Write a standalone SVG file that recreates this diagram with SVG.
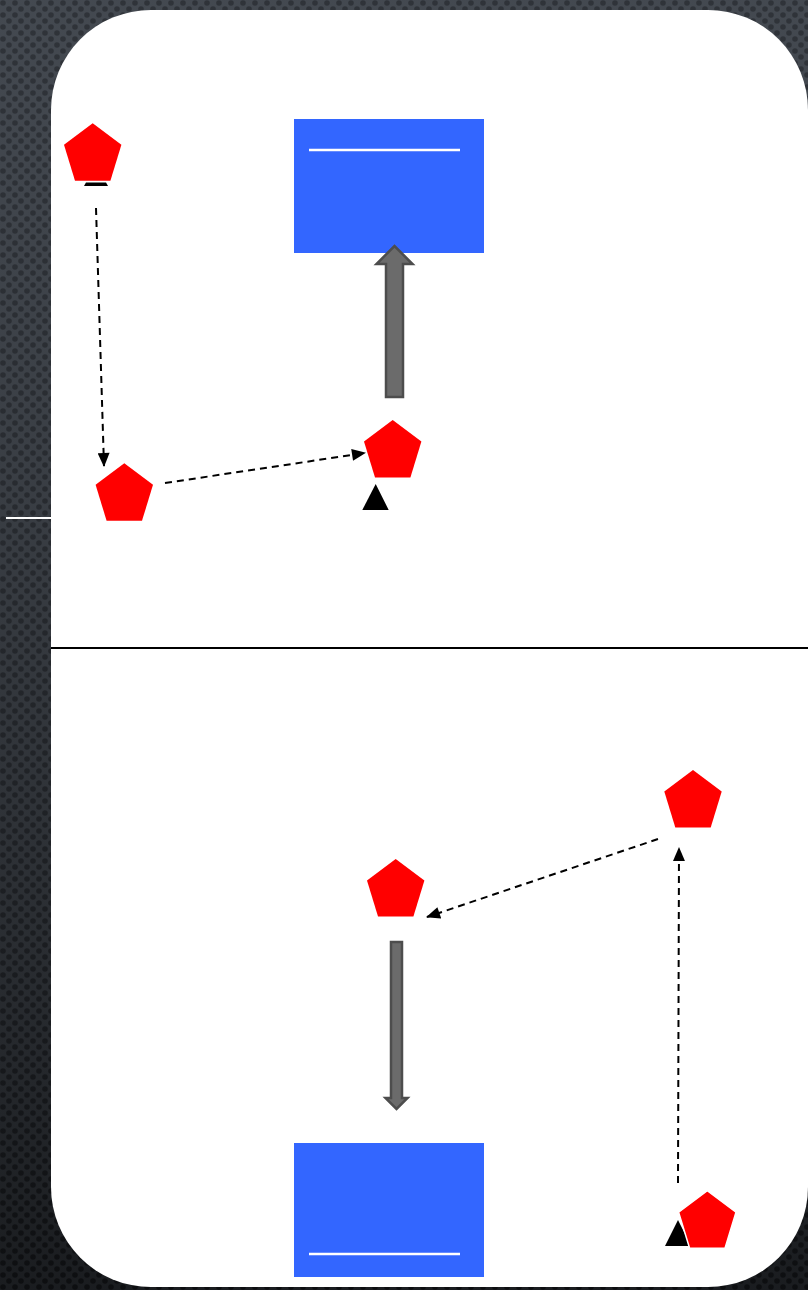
<svg xmlns="http://www.w3.org/2000/svg" width="808" height="1290" viewBox="0 0 808 1290">
<style>
.pent{fill:#ff0000}
.dash{stroke:#000;stroke-width:2;stroke-dasharray:7 5;fill:none}
.blue{fill:#3366ff}
.wline{stroke:#fff;stroke-width:2.5}
.big{fill:#6b6b6b;stroke:#4d4d4d;stroke-width:2.5}
.tri{fill:#000}
</style>
<defs>
<pattern id="dots" width="12" height="12" patternUnits="userSpaceOnUse">
<rect width="12" height="12" fill="#3a3f46"/>
<circle cx="3" cy="3" r="2.8" fill="#1d2025"/>
<circle cx="9" cy="9" r="2.8" fill="#1d2025"/>
</pattern>
<linearGradient id="shade" x1="0" y1="0" x2="0" y2="1">
<stop offset="0" stop-color="#5a6068" stop-opacity="0.3"/>
<stop offset="1" stop-color="#000" stop-opacity="0.55"/>
</linearGradient>
<path id="pg" d="M0,0 L28.7,21.5 L17.7,57.5 L-17.7,57.5 L-28.7,21.5 Z"/>
<marker id="ah" viewBox="0 0 14 12" refX="13" refY="6" markerWidth="15" markerHeight="12" markerUnits="userSpaceOnUse" orient="auto">
<path d="M0,0 L14,6 L0,12 Z" fill="#000"/>
</marker>
</defs>
<g id="background">
<rect width="808" height="1290" fill="url(#dots)"/>
<rect width="808" height="1290" fill="url(#shade)"/>
<line x1="6" y1="518" x2="51" y2="518" stroke="#fff" stroke-width="2"/>
<rect x="51" y="10" width="757" height="1277" rx="100" ry="100" fill="#fff"/>
<line x1="51" y1="648" x2="808" y2="648" stroke="#000" stroke-width="2"/>
</g>
<g id="box-top">
<rect class="blue" x="294" y="119" width="190" height="134"/>
<line class="wline" x1="309" y1="150" x2="460" y2="150"/>
</g>
<g id="box-bottom">
<rect class="blue" x="294" y="1143" width="190" height="134"/>
<line class="wline" x1="309" y1="1254" x2="460" y2="1254"/>
</g>
<g id="connectors">
<line class="dash" x1="96" y1="208" x2="104" y2="466" marker-end="url(#ah)"/>
<line class="dash" x1="165" y1="483" x2="365" y2="453" marker-end="url(#ah)"/>
<line class="dash" x1="658" y1="839" x2="427" y2="917" marker-end="url(#ah)"/>
<line class="dash" x1="678" y1="1183" x2="679" y2="848" marker-end="url(#ah)"/>
<polygon class="big" points="386,397 386,264 376.5,264 394.5,246 412.5,264 403,264 403,397"/>
<polygon class="big" points="391,942 402,942 402,1098 407.5,1098 396.5,1109 385.5,1098 391,1098"/>
</g>
<g id="node-1">
<polygon class="tri" points="86,182.5 106,182.5 108,186 84,186"/>
<use href="#pg" class="pent" transform="translate(92.7,123.3)"/>
</g>
<g id="node-2">
<use href="#pg" class="pent" transform="translate(124.3,463.3)"/>
</g>
<g id="node-3">
<use href="#pg" class="pent" transform="translate(392.7,420)"/>
<polygon class="tri" points="375.7,484 362.3,510 388.7,510"/>
</g>
<g id="node-4">
<use href="#pg" class="pent" transform="translate(693,770)"/>
</g>
<g id="node-5">
<use href="#pg" class="pent" transform="translate(395.7,859)"/>
</g>
<g id="node-6">
<polygon class="tri" points="678,1220 665,1246 691,1246"/>
<use href="#pg" class="pent" transform="translate(707.3,1190.7)" stroke="#fff" stroke-width="1.5"/>
</g>
</svg>
